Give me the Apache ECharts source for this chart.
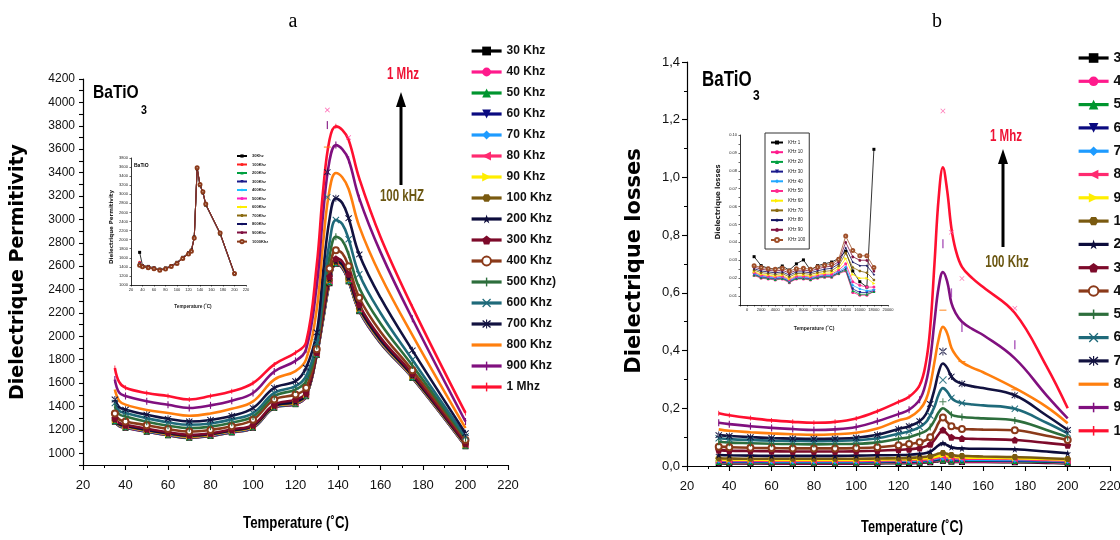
<!DOCTYPE html>
<html><head><meta charset="utf-8">
<script src="https://cdn.jsdelivr.net/npm/echarts/dist/echarts.min.js"></script>
<style>html,body{margin:0;padding:0;background:#fff}#c{width:1120px;height:540px}</style>
</head><body><div id="c"></div>
<script>
// ---------------- DATA ----------------
const freqNames = ['30 Khz','40 Khz','50 Khz','60 Khz','70 Khz','80 Khz','90 Khz','100 Khz','200 Khz','300 Khz','400 Khz','500 Khz)','600 Khz','700 Khz','800 Khz','900 Khz','1 Mhz'];

// (a) dielectric permittivity vs temperature
const tempsA = [35,37,40,50,60,70,80,90,100,110,120,125,130,133,136,139,142,145,150,160,175,200];
const markTempsA = [35,40,50,60,70,80,90,100,110,120,125,130,136,139,145,150,175,200];
const permA30  = [1270,1232,1218,1184,1154,1132,1148,1178,1218,1388,1420,1488,1841,2144,2454,2620,2585,2470,2215,1942,1645,1060];
const permA40  = [1272,1234,1220,1186,1156,1134,1150,1180,1220,1390,1422,1490,1843,2148,2458,2622,2588,2473,2218,1945,1647,1062];
const permA50  = [1274,1236,1222,1188,1158,1136,1152,1182,1222,1392,1424,1492,1845,2152,2462,2624,2591,2476,2221,1948,1649,1064];
const permA60  = [1276,1238,1224,1190,1160,1138,1154,1184,1224,1394,1426,1494,1847,2156,2466,2626,2594,2479,2224,1951,1651,1066];
const permA70  = [1278,1240,1226,1192,1162,1140,1156,1186,1226,1396,1428,1496,1849,2160,2470,2628,2597,2482,2227,1954,1653,1068];
const permA80  = [1280,1242,1228,1194,1164,1142,1158,1188,1228,1398,1430,1498,1851,2164,2474,2630,2600,2485,2230,1957,1655,1070];
const permA90  = [1282,1244,1230,1196,1166,1144,1160,1190,1230,1400,1432,1500,1853,2168,2478,2632,2604,2489,2234,1960,1657,1072];
const permA100 = [1285,1246,1232,1198,1168,1146,1162,1192,1232,1402,1434,1502,1855,2172,2482,2635,2608,2493,2238,1964,1660,1074];
const permA200 = [1290,1250,1235,1200,1172,1150,1165,1196,1236,1405,1440,1505,1858,2180,2490,2640,2615,2500,2245,1970,1665,1078];
const permA300 = [1300,1260,1244,1210,1180,1158,1172,1205,1244,1416,1459,1516,1861,2200,2510,2664,2640,2530,2270,1990,1680,1086];
const permA400 = [1340,1290,1272,1240,1207,1186,1200,1232,1287,1459,1502,1560,1889,2250,2580,2736,2710,2600,2330,2040,1710,1114];
const permA500 = [1402,1335,1315,1270,1236,1215,1228,1262,1315,1488,1545,1617,1918,2320,2680,2851,2820,2700,2415,2110,1750,1129];
const permA600 = [1430,1365,1344,1300,1265,1244,1255,1290,1344,1516,1574,1660,1947,2400,2800,2994,2960,2830,2530,2200,1800,1143];
const permA700 = [1460,1395,1373,1330,1295,1272,1285,1320,1387,1560,1617,1732,2033,2550,3000,3181,3140,3010,2700,2330,1880,1172];
const permA800 = [1545,1450,1416,1370,1345,1321,1340,1380,1444,1630,1703,1803,2234,2800,3250,3396,3360,3260,2940,2520,2010,1215];
const permA900 = [1630,1520,1490,1445,1415,1387,1410,1450,1516,1700,1790,1890,2435,3050,3500,3635,3600,3510,3180,2720,2150,1272];
const permA1M  = [1730,1610,1560,1515,1490,1460,1490,1530,1600,1760,1860,1950,2610,3250,3680,3795,3765,3680,3350,2850,2250,1345];
const permA = [permA30,permA40,permA50,permA60,permA70,permA80,permA90,permA100,permA200,permA300,permA400,permA500,permA600,permA700,permA800,permA900,permA1M];
// raw data markers of (a) that sit off the smoothed curves near the peak
const rawA600 = [[135, 3190]];
const rawA700 = [[135, 3404]];
const rawA800 = [[135, 3618]];
const rawA900 = [[135, 3806]];
const rawA1M  = [[135, 3935], [145, 3700]];

// (b) dielectric losses vs temperature
const tempsB = [35,40,50,60,70,80,90,100,110,120,125,130,133,135,137,139,141,143,145,147,150,155,160,175,190,200];
const markTempsB = [35,40,50,60,70,80,90,100,110,120,125,130,135,141,145,150,175,200];
const lossB30  = [0.010,0.009,0.009,0.008,0.008,0.008,0.008,0.008,0.009,0.010,0.010,0.011,0.012,0.013,0.015,0.017,0.018,0.017,0.015,0.014,0.014,0.014,0.014,0.013,0.011,0.009];
const lossB40  = [0.012,0.011,0.011,0.010,0.010,0.010,0.010,0.010,0.011,0.012,0.012,0.013,0.014,0.015,0.017,0.019,0.020,0.019,0.017,0.016,0.016,0.016,0.016,0.015,0.013,0.011];
const lossB50  = [0.014,0.013,0.013,0.012,0.012,0.012,0.012,0.012,0.013,0.014,0.014,0.015,0.016,0.017,0.019,0.021,0.022,0.021,0.019,0.018,0.018,0.018,0.018,0.017,0.015,0.013];
const lossB60  = [0.016,0.015,0.015,0.014,0.014,0.014,0.014,0.014,0.015,0.016,0.016,0.017,0.018,0.019,0.021,0.024,0.025,0.024,0.022,0.021,0.020,0.020,0.020,0.019,0.017,0.015];
const lossB70  = [0.018,0.017,0.017,0.016,0.016,0.016,0.016,0.016,0.017,0.018,0.018,0.019,0.020,0.021,0.024,0.027,0.028,0.027,0.025,0.024,0.023,0.022,0.022,0.021,0.019,0.017];
const lossB80  = [0.020,0.019,0.019,0.018,0.018,0.018,0.018,0.018,0.019,0.020,0.021,0.022,0.023,0.024,0.027,0.030,0.032,0.030,0.028,0.027,0.026,0.025,0.025,0.024,0.021,0.019];
const lossB90  = [0.023,0.022,0.022,0.021,0.021,0.021,0.021,0.021,0.022,0.023,0.024,0.025,0.027,0.028,0.031,0.035,0.037,0.035,0.032,0.031,0.030,0.029,0.029,0.027,0.024,0.021];
const lossB100 = [0.027,0.026,0.025,0.025,0.025,0.025,0.025,0.025,0.026,0.027,0.028,0.030,0.032,0.034,0.038,0.043,0.045,0.042,0.038,0.036,0.035,0.034,0.033,0.031,0.027,0.024];
const lossB200 = [0.038,0.037,0.036,0.035,0.035,0.035,0.035,0.036,0.037,0.038,0.039,0.042,0.045,0.050,0.060,0.072,0.079,0.072,0.065,0.062,0.061,0.060,0.060,0.058,0.050,0.044];
const lossB300 = [0.055,0.053,0.052,0.051,0.050,0.050,0.050,0.051,0.053,0.056,0.058,0.062,0.068,0.075,0.090,0.110,0.125,0.111,0.100,0.097,0.095,0.094,0.093,0.090,0.080,0.072];
const lossB400 = [0.067,0.065,0.063,0.062,0.061,0.061,0.061,0.062,0.065,0.072,0.076,0.082,0.090,0.100,0.120,0.150,0.168,0.152,0.138,0.132,0.128,0.127,0.126,0.124,0.105,0.090];
const lossB500 = [0.084,0.081,0.079,0.077,0.076,0.075,0.076,0.077,0.082,0.094,0.100,0.112,0.122,0.135,0.158,0.186,0.200,0.191,0.178,0.173,0.170,0.167,0.165,0.158,0.125,0.100];
const lossB600 = [0.096,0.093,0.090,0.088,0.087,0.086,0.087,0.089,0.096,0.112,0.120,0.135,0.152,0.175,0.205,0.248,0.270,0.258,0.236,0.225,0.218,0.213,0.210,0.198,0.150,0.113];
const lossB700 = [0.107,0.104,0.100,0.097,0.095,0.094,0.095,0.098,0.108,0.128,0.138,0.155,0.180,0.215,0.265,0.325,0.355,0.340,0.310,0.295,0.285,0.276,0.270,0.245,0.175,0.125];
const lossB800 = [0.127,0.122,0.117,0.113,0.110,0.108,0.110,0.115,0.130,0.158,0.168,0.195,0.230,0.280,0.360,0.440,0.482,0.460,0.410,0.385,0.360,0.340,0.325,0.270,0.205,0.148];
const lossB900 = [0.150,0.145,0.138,0.132,0.128,0.125,0.127,0.135,0.155,0.180,0.195,0.230,0.290,0.370,0.500,0.620,0.672,0.640,0.565,0.530,0.500,0.474,0.454,0.373,0.245,0.165];
const lossB1M  = [0.183,0.176,0.166,0.158,0.153,0.150,0.153,0.165,0.190,0.222,0.240,0.280,0.360,0.480,0.700,0.930,1.035,0.955,0.825,0.750,0.690,0.650,0.620,0.530,0.345,0.200];
const lossB = [lossB30,lossB40,lossB50,lossB60,lossB70,lossB80,lossB90,lossB100,lossB200,lossB300,lossB400,lossB500,lossB600,lossB700,lossB800,lossB900,lossB1M];
// raw data markers of (b) that sit off the smoothed curves
const rawB500 = [[141, 0.223]];
const rawB600 = [[141, 0.298]];
const rawB700 = [[141, 0.397]];
const rawB800 = [[141, 0.540], [150, 0.362], [175, 0.264]];
const rawB900 = [[141, 0.770], [145, 0.600], [150, 0.480], [175, 0.420]];
const rawB1M  = [[141, 1.230], [145, 0.810], [150, 0.650], [175, 0.547]];

// inset of (a)
const insetANames = ['30Khz','100Khz','200Khz','300Khz','400Khz','500Khz','600Khz','700Khz','800Khz','900Khz','1000Khz'];
const insetATemps = [35,40,50,60,70,80,90,100,110,120,125,130,135,140,145,150,175,200];
const insA30   = [1720,1430,1410,1380,1350,1375,1430,1500,1610,1710,1770,2060,3560,3190,3030,2760,2120,1230];
const insA100  = [1500,1425,1400,1375,1345,1370,1425,1495,1605,1705,1765,2055,3565,3195,3035,2765,2125,1235];
const insA200  = [1480,1420,1398,1372,1342,1368,1422,1492,1602,1702,1762,2052,3568,3198,3038,2768,2128,1238];
const insA300  = [1470,1418,1396,1370,1340,1366,1420,1490,1600,1700,1760,2050,3570,3200,3040,2770,2130,1240];
const insA400  = [1465,1416,1394,1368,1338,1364,1418,1488,1598,1698,1758,2048,3572,3202,3042,2772,2132,1242];
const insA500  = [1460,1414,1392,1366,1336,1362,1416,1486,1596,1696,1756,2046,3574,3204,3044,2774,2134,1244];
const insA600  = [1455,1412,1390,1364,1334,1360,1414,1484,1594,1694,1754,2044,3576,3206,3046,2776,2136,1246];
const insA700  = [1450,1410,1388,1362,1332,1358,1412,1482,1592,1692,1752,2042,3578,3208,3048,2778,2138,1248];
const insA800  = [1445,1408,1386,1360,1330,1356,1410,1480,1590,1690,1750,2040,3580,3210,3050,2780,2140,1250];
const insA900  = [1440,1406,1384,1358,1328,1354,1408,1478,1588,1688,1748,2038,3582,3212,3052,2782,2142,1252];
const insA1000 = [1435,1404,1382,1356,1326,1352,1406,1476,1586,1686,1746,2036,3584,3214,3054,2784,2144,1254];
const insetA = [insA30,insA100,insA200,insA300,insA400,insA500,insA600,insA700,insA800,insA900,insA1000];

// inset of (b)
const insetBNames = ['KHz 1','KHz 10','KHz 20','KHz 30','KHz 40','KHz 50','KHz 60','KHz 70','KHz 80','KHz 90','KHz 100'];
const insetBX = [1000,2000,3000,4000,5000,6000,7000,8000,9000,10000,11000,12000,13000,14000,15000,16000,17000,18000];
const insB1   = [0.0320,0.0270,0.0255,0.0250,0.0268,0.0245,0.0280,0.0302,0.0245,0.0270,0.0280,0.0290,0.0310,0.0350,0.0240,0.0180,0.0150,0.0920];
const insB10  = [0.0215,0.0200,0.0195,0.0190,0.0195,0.0175,0.0195,0.0195,0.0190,0.0200,0.0205,0.0205,0.0225,0.0240,0.0120,0.0105,0.0105,0.0125];
const insB20  = [0.0218,0.0203,0.0198,0.0193,0.0198,0.0178,0.0198,0.0198,0.0193,0.0203,0.0208,0.0208,0.0228,0.0245,0.0130,0.0110,0.0110,0.0125];
const insB30  = [0.0222,0.0207,0.0202,0.0197,0.0202,0.0182,0.0202,0.0202,0.0197,0.0207,0.0212,0.0212,0.0232,0.0252,0.0140,0.0120,0.0120,0.0130];
const insB40  = [0.0226,0.0211,0.0206,0.0201,0.0206,0.0186,0.0206,0.0206,0.0201,0.0211,0.0216,0.0216,0.0238,0.0262,0.0160,0.0140,0.0130,0.0135];
const insB50  = [0.0231,0.0216,0.0211,0.0206,0.0211,0.0191,0.0211,0.0211,0.0206,0.0216,0.0221,0.0222,0.0245,0.0280,0.0180,0.0160,0.0150,0.0150];
const insB60  = [0.0236,0.0222,0.0217,0.0212,0.0217,0.0197,0.0217,0.0217,0.0212,0.0222,0.0228,0.0230,0.0255,0.0310,0.0220,0.0200,0.0200,0.0170];
const insB70  = [0.0245,0.0231,0.0226,0.0221,0.0226,0.0207,0.0226,0.0226,0.0221,0.0231,0.0238,0.0242,0.0268,0.0340,0.0260,0.0240,0.0230,0.0190];
const insB80  = [0.0253,0.0240,0.0235,0.0230,0.0235,0.0217,0.0235,0.0235,0.0230,0.0241,0.0250,0.0255,0.0280,0.0370,0.0290,0.0270,0.0270,0.0220];
const insB90  = [0.0262,0.0250,0.0244,0.0240,0.0245,0.0228,0.0244,0.0245,0.0240,0.0252,0.0262,0.0267,0.0292,0.0400,0.0320,0.0300,0.0300,0.0240];
const insB100 = [0.0270,0.0260,0.0253,0.0250,0.0255,0.0240,0.0253,0.0255,0.0250,0.0262,0.0272,0.0278,0.0305,0.0435,0.0355,0.0325,0.0325,0.0260];
const insetB = [insB1,insB10,insB20,insB30,insB40,insB50,insB60,insB70,insB80,insB90,insB100];

// ---------------- STYLE ----------------
const SANS = '"Liberation Sans",Arial,sans-serif';
const WIDE = '"DejaVu Sans",Verdana,sans-serif';
const P = s => 'path://M0,0 M10,10 ' + s;
const INV_TRI = P('M0,0 L10,0 L5,10 Z');
const LEFT_TRI = P('M0,5 L10,0 L10,10 Z');
const RIGHT_TRI = P('M0,0 L10,5 L0,10 Z');
const STAR = P('M5,0 L6.2,3.8 L10,3.8 L6.9,6.1 L8.1,10 L5,7.6 L1.9,10 L3.1,6.1 L0,3.8 L3.8,3.8 Z');
const PENT = P('M5,0 L10,3.8 L8.1,10 L1.9,10 L0,3.8 Z');
const HEX = P('M2.5,0.7 L7.5,0.7 L10,5 L7.5,9.3 L2.5,9.3 L0,5 Z');
const VBAR = P('M4.2,0 L5.8,0 L5.8,10 L4.2,10 Z');
const HBAR = P('M0,4.2 L10,4.2 L10,5.8 L0,5.8 Z');
const PLUS = P('M4.3,0 L5.7,0 L5.7,4.3 L10,4.3 L10,5.7 L5.7,5.7 L5.7,10 L4.3,10 L4.3,5.7 L0,5.7 L0,4.3 L4.3,4.3 Z');
const XMARK = P('M0,1 L1,0 L5,4 L9,0 L10,1 L6,5 L10,9 L9,10 L5,6 L1,10 L0,9 L4,5 Z');
const ASTER = P('M0,1.5 L1,0.5 L5,4 L9,0.5 L10,1.5 L6,5 L10,8.5 L9,9.5 L5,6 L1,9.5 L0,8.5 L4,5 Z M4.4,0 L4.4,10 L5.6,10 L5.6,0 Z');

const colors = ['#000000','#ff1a8c','#00952e','#0a0a80','#1e9bff','#ff2a70','#ffee00','#7a5a10','#0c0c3c','#7d0a2a','#8b3a1a','#2d6e3c','#1f6a7a','#121240','#ff7f0e','#80107f','#ff1030'];
const symbols = ['rect','circle','triangle',INV_TRI,'diamond',LEFT_TRI,RIGHT_TRI,HEX,STAR,PENT,'emptyCircle',VBAR,XMARK,ASTER,'none',VBAR,VBAR];
const symSize = [6,6,6,6,6,6,6,7,7,7,6,7,7,7,0,7,5];

const insAColors = ['#000000','#ff2020','#00a040','#1a1a8c','#20c0ff','#ff20c0','#ffee00','#8a6a10','#101060','#801040','#8b3a1a'];
const insASymbols = ['rect','circle','triangle',INV_TRI,'diamond','circle',RIGHT_TRI,HEX,STAR,PENT,'emptyCircle'];
const insBColors = ['#000000','#ff1a8c','#00a040','#1a1a8c','#20a8ff','#ff2a90','#ffee00','#8a6a10','#101060','#801040','#a0502a'];
const insBSymbols = ['rect','circle','triangle',INV_TRI,'diamond','circle',RIGHT_TRI,HEX,STAR,PENT,'emptyCircle'];

// hidden curve markers where the raw marker is drawn separately
const hideA = (i, x) => i >= 12 && x === 136;
const hideB = (i, x) => (i >= 11 && i <= 13 && x === 141) || (i >= 15 && x > 130);

function mainSeries(names, arrs, xs, marks, ax, hide) {
  return names.map((n, i) => ({
    name: n, type: 'line', xAxisIndex: ax, yAxisIndex: ax,
    smooth: 0.4,
    data: xs.map((x, j) => (marks.indexOf(x) >= 0 && !hide(i, x)) ? [x, arrs[i][j]] : { value: [x, arrs[i][j]], symbolSize: 0 }),
    symbol: symbols[i], symbolSize: symSize[i], showSymbol: symbols[i] !== 'none',
    lineStyle: { width: 2.6, color: colors[i] },
    itemStyle: { color: colors[i] },
    z: 3, animation: false, silent: true
  }));
}
function rawSeries(name, pts, ax, color, symbol, size) {
  return { name, type: 'scatter', xAxisIndex: ax, yAxisIndex: ax, data: pts,
    symbol, symbolSize: size, itemStyle: { color, opacity: 0.85 }, z: 4, animation: false, silent: true };
}
function insetSeries(names, arrs, xs, ax, cols, syms) {
  return names.map((n, i) => ({
    name: n, type: 'line', xAxisIndex: ax, yAxisIndex: ax,
    data: xs.map((x, j) => [x, arrs[i][j]]),
    symbol: syms[i], symbolSize: 3,
    lineStyle: { width: 0.8, color: cols[i] },
    itemStyle: { color: cols[i] },
    z: 3, animation: false, silent: true
  }));
}

const axLine = { lineStyle: { color: '#000', width: 1.2 } };
function mainX(gi) {
  return { gridIndex: gi, type: 'value', min: 20, max: 220, interval: 20,
    axisLine: axLine, splitLine: { show: false },
    axisTick: { length: 5, lineStyle: { color: '#000', width: 1.1 } },
    minorTick: { show: true, splitNumber: 2, length: 3, lineStyle: { color: '#000', width: 1 } },
    axisLabel: { fontFamily: SANS, fontSize: 13, color: '#111', margin: 14 } };
}
function insetAxis(gi, min, max, interval, fmt) {
  return { gridIndex: gi, type: 'value', min, max, interval,
    axisLine: { show: true, onZero: false, lineStyle: { color: '#000', width: 0.8 } }, splitLine: { show: false },
    axisTick: { show: true, length: 1.5, lineStyle: { color: '#000', width: 0.6 } },
    axisLabel: { fontFamily: SANS, fontSize: 4, color: '#222', margin: 3, formatter: fmt,
      showMinLabel: true, showMaxLabel: true, hideOverlap: false } };
}

const legendBase = {
  orient: 'vertical', selectedMode: false, padding: 0,
  itemWidth: 30, itemHeight: 11,
  lineStyle: { width: 3.2 },
  textStyle: { fontFamily: SANS, fontWeight: 'bold', color: '#111', fontSize: 12, lineHeight: 11 }
};
const legendData = freqNames.map(n => n === '800 Khz' ? { name: n, itemStyle: { opacity: 0 } } : n);

function txt(x, y, text, font, fill, opts) {
  return Object.assign({ type: 'text', x, y, style: { text, font, fill, align: 'center', verticalAlign: 'middle' } }, opts || {});
}

const option = {
  backgroundColor: '#fff',
  animation: false,
  grid: [
    { left: 83, top: 79, width: 425, height: 386, outerBoundsMode: 'none', containLabel: false },
    { left: 687, top: 62, width: 423, height: 404, outerBoundsMode: 'none', containLabel: false },
    { left: 131, top: 158, width: 115, height: 127, outerBoundsMode: 'none', containLabel: false },
    { left: 740, top: 135, width: 148, height: 170, outerBoundsMode: 'none', containLabel: false }
  ],
  xAxis: [
    mainX(0), mainX(1),
    insetAxis(2, 20, 220, 20, v => v),
    insetAxis(3, -1000, 20000, 1000, v => (v >= 0 && v % 2000 === 0) ? v : '')
  ],
  yAxis: [
    { gridIndex: 0, type: 'value', min: 900, max: 4200, interval: 100,
      axisLine: { show: true, lineStyle: { color: '#000', width: 1.2 } }, splitLine: { show: false },
      axisTick: { show: true, length: 4, lineStyle: { color: '#000', width: 1.1 } },
      axisLabel: { fontFamily: SANS, fontSize: 12, color: '#111', margin: 8,
        formatter: v => (v >= 1000 && v % 200 === 0) ? String(v) : '' } },
    { gridIndex: 1, type: 'value', min: 0, max: 1.4, interval: 0.2,
      axisLine: { show: true, lineStyle: { color: '#000', width: 1.2 } }, splitLine: { show: false },
      axisTick: { show: true, length: 5, lineStyle: { color: '#000', width: 1.1 } },
      minorTick: { show: true, splitNumber: 2, length: 3, lineStyle: { color: '#000', width: 1 } },
      axisLabel: { fontFamily: SANS, fontSize: 13, color: '#111', margin: 7,
        formatter: v => v.toFixed(1).replace('.', ',') } },
    insetAxis(2, 1000, 3800, 200, v => v),
    insetAxis(3, 0.005, 0.1, 0.005, v => (Math.round(v * 1000) % 10 === 0) ? v.toFixed(2) : '')
  ],
  legend: [
    Object.assign({}, legendBase, { data: legendData, left: 470, top: 45, itemGap: 9 }),
    Object.assign({}, legendBase, { data: legendData, left: 1077, top: 51, itemGap: 9.3, itemHeight: 12,
      textStyle: { fontFamily: SANS, fontWeight: 'bold', color: '#111', fontSize: 14, lineHeight: 12 } }),
    { data: insetANames, orient: 'vertical', selectedMode: false, left: 236, top: 154, padding: 0,
      itemWidth: 10, itemHeight: 4, itemGap: 4.5,
      textStyle: { fontFamily: SANS, fontWeight: 'bold', fontSize: 4, lineHeight: 4, color: '#222' } },
    { data: insetBNames, orient: 'vertical', selectedMode: false, left: 765, top: 133,
      itemWidth: 12, itemHeight: 5, itemGap: 4.7, padding: [7, 4, 6, 5],
      borderColor: '#333', borderWidth: 1,
      textStyle: { fontFamily: SANS, fontSize: 4.5, lineHeight: 5, color: '#222' } }
  ],
  series: [].concat(
    mainSeries(freqNames, permA, tempsA, markTempsA, 0, hideA),
    mainSeries(freqNames, lossB, tempsB, markTempsB, 1, hideB),
    [
      rawSeries('raw a 600', rawA600, 0, colors[12], XMARK, 7),
      rawSeries('raw a 700', rawA700, 0, colors[13], ASTER, 7),
      rawSeries('raw a 800', rawA800, 0, colors[14], HBAR, 7),
      rawSeries('raw a 900', rawA900, 0, colors[15], VBAR, 8),
      rawSeries('raw a 1M', rawA1M, 0, '#ff3fa0', XMARK, 5),
      rawSeries('raw b 500', rawB500, 1, colors[11], PLUS, 7),
      rawSeries('raw b 600', rawB600, 1, colors[12], XMARK, 8),
      rawSeries('raw b 700', rawB700, 1, colors[13], ASTER, 8),
      rawSeries('raw b 800', rawB800, 1, colors[14], HBAR, 7),
      rawSeries('raw b 900', rawB900, 1, '#a040b0', VBAR, 9),
      rawSeries('raw b 1M', rawB1M, 1, '#ff5fa8', XMARK, 5)
    ],
    insetSeries(insetANames, insetA, insetATemps, 2, insAColors, insASymbols),
    insetSeries(insetBNames, insetB, insetBX, 3, insBColors, insBSymbols)
  ),
  graphic: [
    txt(293, 22, 'a', '20px "Liberation Serif",serif', '#000'),
    txt(937, 22, 'b', '20px "Liberation Serif",serif', '#000'),
    // axis titles
    txt(18, 272, 'Dielectrique Permitivity', 'bold 19px ' + WIDE, '#000', { rotation: Math.PI / 2 }),
    txt(296, 523, 'Temperature (˚C)', 'bold 17px ' + SANS, '#000', { scaleX: 0.78 }),
    txt(635, 261, 'Dielectrique losses', 'bold 21px ' + WIDE, '#000', { rotation: Math.PI / 2 }),
    txt(912, 527, 'Temperature (˚C)', 'bold 17px ' + SANS, '#000', { scaleX: 0.75 }),
    // BaTiO3 labels
    { type: 'text', x: 93, y: 93, scaleX: 0.82, style: { text: 'BaTiO', font: 'bold 19px ' + SANS, fill: '#000', align: 'left', verticalAlign: 'middle' } },
    { type: 'text', x: 141, y: 110, scaleX: 0.82, style: { text: '3', font: 'bold 13px ' + SANS, fill: '#000', align: 'left', verticalAlign: 'middle' } },
    { type: 'text', x: 702, y: 80, scaleX: 0.77, style: { text: 'BaTiO', font: 'bold 22px ' + SANS, fill: '#000', align: 'left', verticalAlign: 'middle' } },
    { type: 'text', x: 753, y: 96, scaleX: 0.8, style: { text: '3', font: 'bold 15px ' + SANS, fill: '#000', align: 'left', verticalAlign: 'middle' } },
    // frequency annotations (a)
    txt(403, 75, '1 Mhz', 'bold 16px ' + SANS, '#ee1133', { scaleX: 0.72 }),
    { type: 'line', shape: { x1: 401, y1: 185, x2: 401, y2: 102 }, style: { stroke: '#000', lineWidth: 3 } },
    { type: 'polygon', shape: { points: [[401, 92], [396, 107], [406, 107]] }, style: { fill: '#000' } },
    txt(402, 197, '100 kHZ', 'bold 16px ' + SANS, '#6b5712', { scaleX: 0.72 }),
    // frequency annotations (b)
    txt(1006, 137, '1 Mhz', 'bold 16px ' + SANS, '#ee1133', { scaleX: 0.72 }),
    { type: 'line', shape: { x1: 1003, y1: 247, x2: 1003, y2: 160 }, style: { stroke: '#000', lineWidth: 3 } },
    { type: 'polygon', shape: { points: [[1003, 149], [998, 164], [1008, 164]] }, style: { fill: '#000' } },
    txt(1007, 263, '100 Khz', 'bold 16px ' + SANS, '#6b5712', { scaleX: 0.72 }),
    // inset (a) texts
    { type: 'text', x: 134, y: 166, style: { text: 'BaTiO', font: 'bold 5px ' + SANS, fill: '#000', align: 'left', verticalAlign: 'middle' } },
    txt(112, 227, 'Dielectrique Permitivity', 'bold 5.5px ' + WIDE, '#222', { rotation: Math.PI / 2 }),
    txt(193, 306, 'Temperature (˚C)', 'bold 5.5px ' + SANS, '#222', { scaleX: 0.85 }),
    // inset (b) texts
    txt(718, 202, 'Dielectrique losses', 'bold 7px ' + WIDE, '#222', { rotation: Math.PI / 2 }),
    txt(814, 328, 'Temperature (˚C)', 'bold 6px ' + SANS, '#222', { scaleX: 0.85 })
  ]
};

const chart = echarts.init(document.getElementById('c'), null, { renderer: 'canvas', width: 1120, height: 540 });
chart.setOption(option);
</script></body></html>
